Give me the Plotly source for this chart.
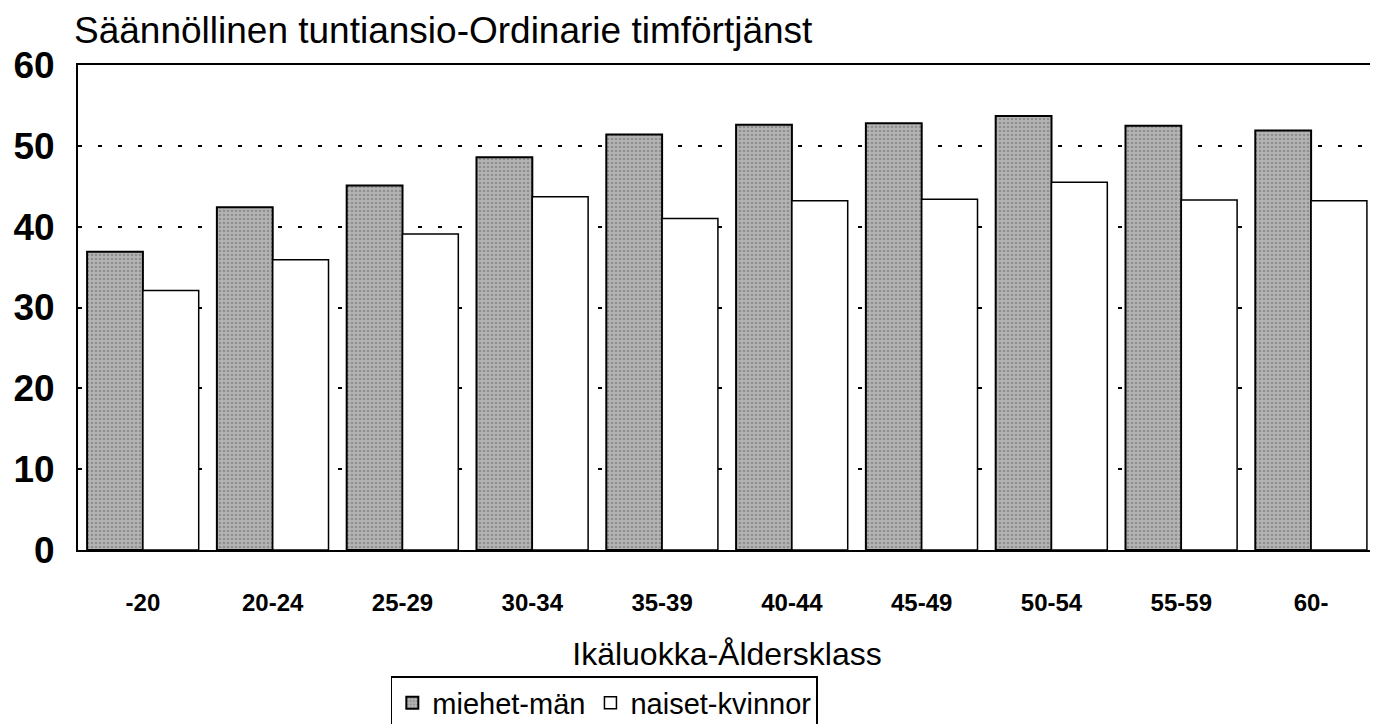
import plotly.graph_objects as go

categories = ["-20", "20-24", "25-29", "30-34", "35-39", "40-44", "45-49", "50-54", "55-59", "60-"]
men = [36.9, 42.4, 45.1, 48.6, 51.4, 52.6, 52.8, 53.7, 52.5, 51.9]
women = [32.1, 35.9, 39.1, 43.7, 41.0, 43.2, 43.4, 45.5, 43.3, 43.2]
y_ticks = [0, 10, 20, 30, 40, 50, 60]

FONT = "Liberation Sans, Arial, sans-serif"

fig = go.Figure()
fig.add_trace(go.Bar(
    x=categories, y=men, name="miehet-män",
    marker=dict(color="#a8a8a8", line=dict(color="black", width=2),
                pattern=dict(shape=".", fgcolor="#6a6a6a", bgcolor="#b4b4b4", size=4, solidity=0.35)),
))
fig.add_trace(go.Bar(
    x=categories, y=women, name="naiset-kvinnor",
    marker=dict(color="white", line=dict(color="black", width=1.5)),
))

fig.update_layout(
    width=1378, height=724,
    margin=dict(l=70, r=10, t=57, b=182, autoexpand=False),
    paper_bgcolor="white", plot_bgcolor="white",
    barmode="group", bargap=0.14, bargroupgap=0,
    font=dict(family=FONT, color="black"),
    title=dict(text="Säännöllinen tuntiansio-Ordinarie timförtjänst",
               x=66/1378, xanchor="left", y=1 - 22/724, yanchor="middle",
               font=dict(size=37, family=FONT)),
    legend=dict(orientation="h", x=0.241, xanchor="left",
                yref="container", y=1 - 668/724, yanchor="top",
                bordercolor="black", borderwidth=1.5, font=dict(size=29, family=FONT),
                itemwidth=30, tracegroupgap=0),
    showlegend=True,
)
fig.update_xaxes(
    showline=True, linecolor="black", linewidth=2, mirror=True,
    tickfont=dict(size=24, family=FONT, weight="bold"), ticklabelstandoff=30,
    title=dict(text="Ikäluokka-Åldersklass", font=dict(size=32, family=FONT), standoff=28),
    automargin=False,
)
fig.update_yaxes(
    range=[0, 60], tickvals=y_ticks,
    showline=True, linecolor="black", linewidth=2, mirror=True,
    showgrid=True, gridcolor="black", gridwidth=2, griddash="4px,16px",
    tickfont=dict(size=37, family=FONT, weight="bold"), ticklabelstandoff=14,
    zeroline=False, automargin=False,
)

fig.write_html("out.html")
